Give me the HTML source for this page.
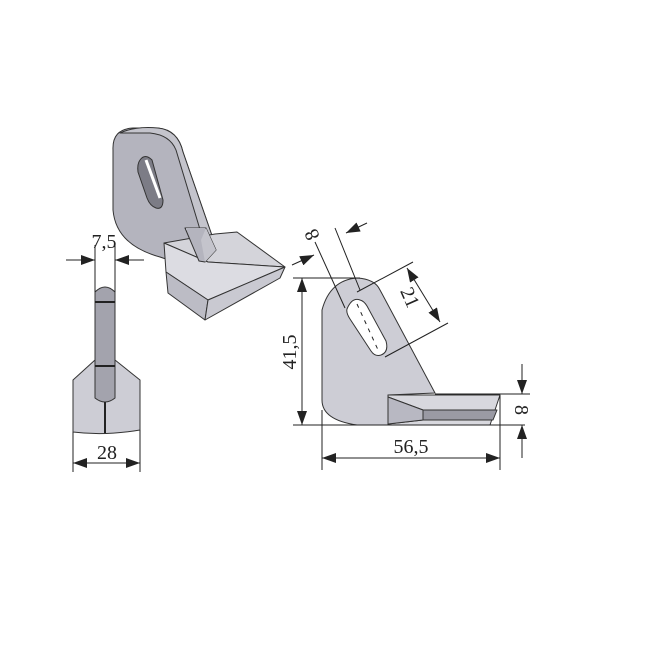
<!DOCTYPE html>
<html><head><meta charset="utf-8"><style>
html,body{margin:0;padding:0;background:#fff;}
svg{display:block;}
text{font-family:"Liberation Serif",serif;fill:#222;}
</style></head><body>
<svg width="650" height="650" viewBox="0 0 650 650" xmlns="http://www.w3.org/2000/svg">
<defs>
<marker id="a" viewBox="0 0 14 10" refX="14" refY="5" markerWidth="14" markerHeight="10" orient="auto-start-reverse" markerUnits="userSpaceOnUse">
<path d="M0,0 L14,5 L0,10 z" fill="#222"/></marker>
</defs>
<rect width="650" height="650" fill="#fff"/>
<g stroke="#333" stroke-width="1" stroke-linejoin="round">
<path d="M113,150 Q112,129 133,128 L158,128 Q178,130 183,152 L217,250 L205,262 L195,259 Q172,262 160,257 Q116,245 113,210 Z" fill="#b4b4be"/>
<path d="M120,133 Q135,126 158,128 Q178,130 183,152 L217,250 L208,256 L176,150 Q170,135 150,133 Z" fill="#c4c4cc"/>
<path d="M140,160 Q145,153 152,160 L163,200 Q163,210 156,208 Q150,206 147,198 L138,172 Q137,164 140,160 Z" fill="#7c7c86"/>
<path d="M146,160 L160,198" stroke="#fff" stroke-width="3"/>
<path d="M164,243 L215,234 L237,232 L285,267 L208,262 Z" fill="#d4d4da"/>
<path d="M164,243 L208,262 L285,267 L208,300 L166,272 Z" fill="#dcdce2"/>
<path d="M166,272 L208,300 L205,320 L168,293 Z" fill="#bcbcc5"/>
<path d="M208,300 L285,267 L280,278 L205,320 Z" fill="#c9c9d1"/>
<path d="M185,228 L206,228 L216,250 L205,262 L199,261 Z" fill="#b4b4be"/>
<path d="M206,228 L216,250 L205,262 L201,240 Z" fill="#c4c4cc" stroke="none"/>
<path d="M95,360 L73,380 L73,432 Q105,436 140,430 L140,380 L115,360 Z" fill="#cdcdd5"/>
<path d="M95,292 Q105,282 115,292 L115,398 Q105,406 95,398 Z" fill="#a3a3ad"/>
<path d="M95,302 L115,302 M95,366 L115,366" stroke="#222" stroke-width="2"/>
<path d="M105,402 L105,433" stroke="#222" stroke-width="2"/>
<path d="M322,310 Q330,280 357,278 Q375,279 380,290 L435,393 L388,395 L388,425 L357,425 Q322,420 322,400 Z" fill="#cdcdd5"/>
<path d="M388,395 L500,395 L490,425 L388,425 Z" fill="#d8d8de"/>
<path d="M388,397 L423,410 L497,410 L493,420 L423,420 L388,424 Z" fill="#9a9aa4"/>
<path d="M388,397 L423,410 L423,420 L388,424 Z" fill="#b8b8c2"/>
<path d="M347,309 Q352,297 360,300 Q364,301 367,306 L386,341 Q389,352 381,355 Q375,357 371,351 L350,319 Q346,313 347,309 Z" fill="#fff"/>
</g>
<path d="M186,229 L205,229" stroke="#b4b4be" stroke-width="2"/>
<g stroke="#222" stroke-width="1" fill="none">
<path d="M357,304 L379,352" stroke-dasharray="4,5"/>
<path d="M95,245 L95,292 M115,245 L115,292"/>
<path d="M66,260 L95,260" marker-end="url(#a)"/>
<path d="M144,260 L115,260" marker-end="url(#a)"/>
<path d="M73,432 L73,472 M140,430 L140,472"/>
<path d="M73,463 L140,463" marker-start="url(#a)" marker-end="url(#a)"/>
<path d="M293,278 L360,278 M293,425 L525,425"/>
<path d="M302,278 L302,425" marker-start="url(#a)" marker-end="url(#a)"/>
<path d="M322,410 L322,470 M500,395 L500,470"/>
<path d="M322,458 L500,458" marker-start="url(#a)" marker-end="url(#a)"/>
<path d="M435,394 L530,394"/>
<path d="M522,364 L522,394" marker-end="url(#a)"/>
<path d="M522,458 L522,425" marker-end="url(#a)"/>
<path d="M357,292 L413,262 M385,357 L448,323"/>
<path d="M407,268 L440,322" marker-start="url(#a)" marker-end="url(#a)"/>
<path d="M315,242 L345,308 M335,228 L360,290"/>
<path d="M292,265 L314,255" marker-end="url(#a)"/>
<path d="M367,223 L346,233" marker-end="url(#a)"/>
</g>
<text x="104" y="248" font-size="20" text-anchor="middle">7,5</text>
<text x="107" y="459" font-size="20" text-anchor="middle">28</text>
<text x="411" y="453" font-size="20" text-anchor="middle">56,5</text>
<text transform="translate(296,352) rotate(-90)" font-size="20" text-anchor="middle">41,5</text>
<text transform="translate(515,410) rotate(90)" font-size="20" text-anchor="middle">8</text>
<text transform="translate(404,300) rotate(66)" font-size="20" text-anchor="middle">21</text>
<text transform="translate(318,232) rotate(-114)" font-size="20" text-anchor="middle">8</text>
</svg>
</body></html>
